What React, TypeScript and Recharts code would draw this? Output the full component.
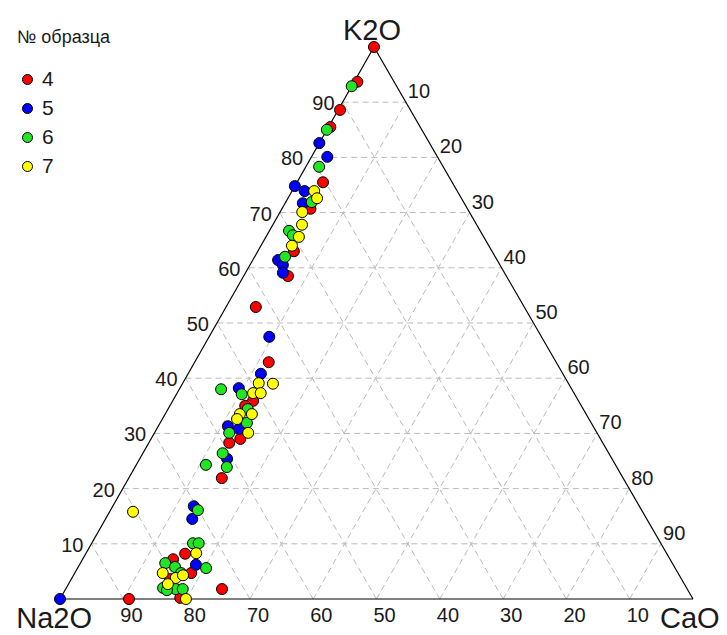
import React from 'react';
import { ScatterChart, Scatter, XAxis, YAxis, ReferenceLine } from 'recharts';

// Ternary data: K2O and CaO in %, Na2O is the rest
const sample4 = [
  { K2O: 100, CaO: 0 }, { K2O: 93.7, CaO: 0.5 }, { K2O: 88.6, CaO: 0.3 }, { K2O: 85.5, CaO: 0.3 },
  { K2O: 75.5, CaO: 4.1 }, { K2O: 70.7, CaO: 4.5 }, { K2O: 63.0, CaO: 5.7 }, { K2O: 58.5, CaO: 7.0 },
  { K2O: 52.9, CaO: 4.7 }, { K2O: 42.9, CaO: 11.7 }, { K2O: 35.9, CaO: 12.7 }, { K2O: 35.0, CaO: 11.9 },
  { K2O: 29.0, CaO: 14.1 }, { K2O: 28.3, CaO: 12.7 }, { K2O: 21.9, CaO: 14.7 }, { K2O: 8.2, CaO: 15.7 },
  { K2O: 7.2, CaO: 14.3 }, { K2O: 4.7, CaO: 18.4 }, { K2O: 3.6, CaO: 15.6 }, { K2O: 1.8, CaO: 24.7 },
  { K2O: 0, CaO: 10.9 }, { K2O: 0.2, CaO: 18.9 },
];

const sample5 = [
  { K2O: 0, CaO: 0 }, { K2O: 82.6, CaO: 0 }, { K2O: 80.1, CaO: 2.5 }, { K2O: 74.8, CaO: 0 },
  { K2O: 73.9, CaO: 2.0 }, { K2O: 71.7, CaO: 2.8 }, { K2O: 61.4, CaO: 4.0 }, { K2O: 60.5, CaO: 5.2 },
  { K2O: 59.1, CaO: 5.9 }, { K2O: 47.5, CaO: 9.5 }, { K2O: 40.8, CaO: 11.5 }, { K2O: 38.2, CaO: 9.3 },
  { K2O: 31.3, CaO: 11.0 }, { K2O: 30.8, CaO: 13.0 }, { K2O: 25.4, CaO: 13.8 }, { K2O: 16.8, CaO: 12.8 },
  { K2O: 14.5, CaO: 13.7 }, { K2O: 6.2, CaO: 18.4 },
];

const sample6 = [
  { K2O: 92.9, CaO: 0 }, { K2O: 85.0, CaO: 0 }, { K2O: 78.3, CaO: 2.1 }, { K2O: 71.9, CaO: 4.1 },
  { K2O: 66.7, CaO: 3.1 }, { K2O: 65.9, CaO: 4.1 }, { K2O: 62.0, CaO: 4.8 }, { K2O: 38.0, CaO: 6.6 },
  { K2O: 37.1, CaO: 10.3 }, { K2O: 34.4, CaO: 12.6 }, { K2O: 31.9, CaO: 13.7 }, { K2O: 30.1, CaO: 11.8 },
  { K2O: 26.4, CaO: 12.6 }, { K2O: 23.9, CaO: 14.5 }, { K2O: 24.3, CaO: 11.0 }, { K2O: 16.1, CaO: 13.8 },
  { K2O: 10.1, CaO: 16.0 }, { K2O: 10.1, CaO: 16.9 }, { K2O: 6.5, CaO: 13.4 }, { K2O: 5.6, CaO: 20.3 },
  { K2O: 5.8, CaO: 15.3 }, { K2O: 4.7, CaO: 16.8 }, { K2O: 2.0, CaO: 15.3 }, { K2O: 1.8, CaO: 17.4 },
  { K2O: 1.8, CaO: 18.5 }, { K2O: 1.6, CaO: 16.1 },
];

const sample7 = [
  { K2O: 73.9, CaO: 3.5 }, { K2O: 72.6, CaO: 4.6 }, { K2O: 70.1, CaO: 3.5 }, { K2O: 67.8, CaO: 4.6 },
  { K2O: 65.6, CaO: 5.2 }, { K2O: 64.0, CaO: 4.9 }, { K2O: 39.1, CaO: 12.0 }, { K2O: 39.0, CaO: 14.3 },
  { K2O: 37.3, CaO: 12.0 }, { K2O: 37.3, CaO: 13.2 }, { K2O: 33.5, CaO: 11.8 }, { K2O: 33.5, CaO: 13.7 },
  { K2O: 32.6, CaO: 11.8 }, { K2O: 30.1, CaO: 14.8 }, { K2O: 15.8, CaO: 3.7 }, { K2O: 8.3, CaO: 17.4 },
  { K2O: 4.7, CaO: 13.9 }, { K2O: 3.8, CaO: 16.4 }, { K2O: 4.3, CaO: 17.3 }, { K2O: 2.7, CaO: 15.7 },
  { K2O: 0, CaO: 19.9 },
];

const sampleNames = ['4', '5', '6', '7'];
const sampleColors = ['#ff0000', '#0000ff', '#22e622', '#ffff00'];
const tickValues = [10, 20, 30, 40, 50, 60, 70, 80, 90];
const gridValues = [0.1, 0.2, 0.3, 0.4, 0.5, 0.6, 0.7, 0.8, 0.9];

// horizontal position of the K2O apex, as a share of the base
const APEX = 0.496;

const toXY = (k: number, c: number) => ({ x: c + APEX * k, y: k });
const project = (rows: { K2O: number; CaO: number }[]) =>
  rows.map(r => ({ ...toXY(r.K2O / 100, r.CaO / 100), Na2O: 100 - r.K2O - r.CaO, ...r }));

const samples = [sample4, sample5, sample6, sample7].map(project);

// axis label positions
const leftTicks = tickValues.map(v => ({ ...toXY(v / 100, 0), label: String(v) }));   // K2O
const rightTicks = tickValues.map(v => ({ ...toXY(1 - v / 100, v / 100), label: String(v) })); // CaO
const bottomTicks = tickValues.map(v => ({ ...toXY(0, 1 - v / 100), label: String(v) })); // Na2O
const vertices = [
  { ...toXY(1, 0), label: 'K2O', dx: -2, dy: -7, anchor: 'middle' },
  { ...toXY(0, 0), label: 'Na2O', dx: 32, dy: 29, anchor: 'end' },
  { ...toXY(0, 1), label: 'CaO', dx: -33, dy: 29, anchor: 'start' },
];

const textColor = '#1a1a1a';
const gridStyle = { stroke: '#bababa', strokeDasharray: '6 4', strokeWidth: 1 };

const Marker = (props: any) => {
  const { cx, cy, fill } = props;
  if (cx == null || cy == null) return null;
  return <circle cx={cx} cy={cy} r={5.5} fill={fill} stroke="#000" strokeWidth={1} />;
};

const tickLabel = (dx: number, dy: number, anchor: string, size = 20) => (props: any) => {
  const { cx, cy, payload } = props;
  return (
    <text x={cx + dx} y={cy + dy} textAnchor={anchor} fontSize={size} fill={textColor}
      fontFamily="'Liberation Sans', Arial, sans-serif">
      {payload.label}
    </text>
  );
};

const vertexLabel = (props: any) => {
  const { cx, cy, payload } = props;
  return (
    <text x={cx + payload.dx} y={cy + payload.dy} textAnchor={payload.anchor} fontSize={29} fill={textColor}
      fontFamily="'Liberation Sans', Arial, sans-serif">
      {payload.label}
    </text>
  );
};

const App: React.FC = () => {
  const edges = [
    [toXY(0, 0), toXY(1, 0)],
    [toXY(1, 0), toXY(0, 1)],
    [toXY(0, 0), toXY(0, 1)],
  ];

  const grid: { x: number; y: number }[][] = [];
  gridValues.forEach(v => {
    grid.push([toXY(v, 0), toXY(v, 1 - v)]);       // constant K2O
    grid.push([toXY(0, v), toXY(1 - v, v)]);       // constant CaO
    grid.push([toXY(0, 1 - v), toXY(1 - v, 0)]);   // constant Na2O
  });

  return (
    <div style={{ position: 'absolute', left: 0, top: 0, width: 727, height: 635, background: '#fff',
      fontFamily: "'Liberation Sans', Arial, sans-serif", color: textColor }}>
      <ScatterChart width={727} height={635} margin={{ top: 47, right: 34, bottom: 36, left: 60 }}>
        <XAxis type="number" dataKey="x" domain={[0, 1]} hide />
        <YAxis type="number" dataKey="y" domain={[0, 1]} hide />
        {grid.map((seg, i) => (
          <ReferenceLine key={'g' + i} segment={seg} ifOverflow="visible" {...gridStyle} />
        ))}
        {edges.map((seg, i) => (
          <ReferenceLine key={'e' + i} segment={seg} ifOverflow="visible" stroke="#000" strokeWidth={1.2} />
        ))}
        <Scatter data={leftTicks} shape={tickLabel(-8, 8, 'end')} isAnimationActive={false} />
        <Scatter data={rightTicks} shape={tickLabel(2, -4, 'start')} isAnimationActive={false} />
        <Scatter data={bottomTicks} shape={tickLabel(-3, 23, 'start')} isAnimationActive={false} />
        <Scatter data={vertices} shape={vertexLabel} isAnimationActive={false} />
        {samples.map((data, i) => (
          <Scatter key={sampleNames[i]} name={sampleNames[i]} data={data} fill={sampleColors[i]}
            shape={<Marker />} isAnimationActive={false} />
        ))}
      </ScatterChart>

      <div style={{ position: 'absolute', left: 17, top: 27, fontSize: 18, lineHeight: '20px' }}>№ образца</div>
      {sampleNames.map((name, i) => (
        <div key={name} style={{ position: 'absolute', left: 22, top: 69 + i * 29, height: 20,
          display: 'flex', alignItems: 'center', fontSize: 21 }}>
          <span style={{ width: 9, height: 9, borderRadius: '50%', background: sampleColors[i],
            border: '1px solid #000', display: 'inline-block', marginRight: 9 }} />
          {name}
        </div>
      ))}
    </div>
  );
};

export default App;
